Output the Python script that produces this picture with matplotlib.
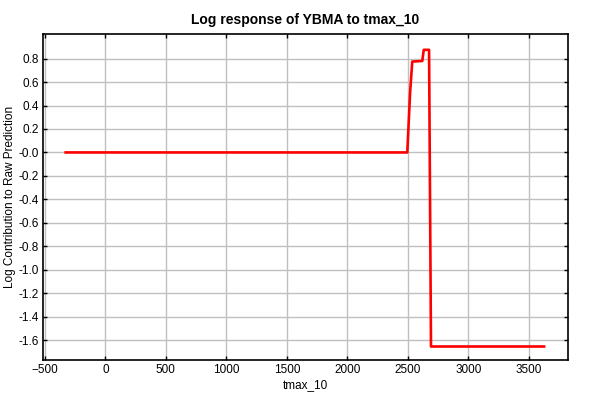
import matplotlib
matplotlib.use("Agg")
import matplotlib.pyplot as plt

# response curve
tmax = [-329, 2496, 2519, 2537, 2620, 2632, 2676, 2692, 3627]
contrib = [0.0, 0.0, 0.505, 0.775, 0.78, 0.875, 0.875, -1.655, -1.655]

xticks = [-500, 0, 500, 1000, 1500, 2000, 2500, 3000, 3500]
yticks = [0.8, 0.6, 0.4, 0.2, 0.0, -0.2, -0.4, -0.6, -0.8, -1.0, -1.2, -1.4, -1.6]
ylabels = ["0.8", "0.6", "0.4", "0.2", "-0.0", "-0.2", "-0.4", "-0.6",
           "-0.8", "-1.0", "-1.2", "-1.4", "-1.6"]

plt.rcParams['font.family'] = ['Liberation Sans', 'DejaVu Sans']

fig = plt.figure(figsize=(6, 4), dpi=100)
ax = fig.add_axes([0.0717, 0.1, 0.875, 0.815])

ax.plot(tmax, contrib, color='red', lw=1.9, zorder=3)

ax.set_xlim(-516, 3825)
ax.set_ylim(-1.77, 1.01)
ax.set_xticks(xticks)
ax.set_yticks(yticks)
ax.set_yticklabels(ylabels)
ax.grid(True, color='#c0c0c0', lw=1)
ax.set_axisbelow(True)
ax.tick_params(direction='in', length=3, width=1, labelsize=8.5,
               top=True, right=True, pad=3)
for s in ax.spines.values():
    s.set_linewidth(1.2)

ax.set_title('Log response of YBMA to tmax_10', fontsize=10,
             fontweight='bold', pad=7)
ax.set_xlabel('tmax_10', fontsize=8.5, labelpad=2)
ax.set_ylabel('Log Contribution to Raw Prediction', fontsize=8.5, labelpad=2)

fig.savefig('out.png', dpi=100)
